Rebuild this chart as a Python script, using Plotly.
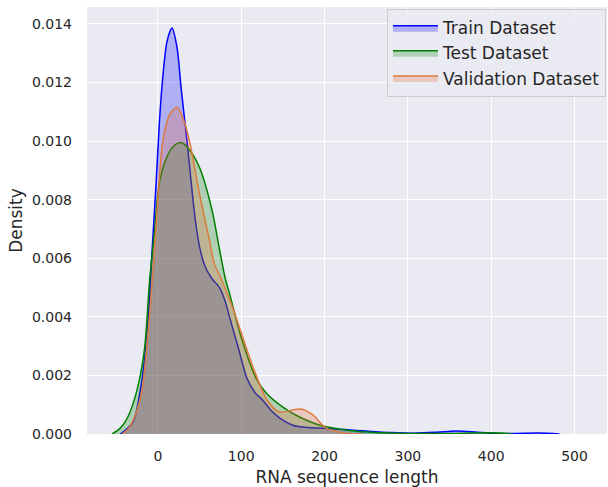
import plotly.graph_objects as go

# Train dataset KDE
train_x = [-45, -30, -21, -13, -7, -2, 2, 6, 11, 17, 23, 28, 35, 40, 45, 50, 57, 65, 74, 80, 86, 97, 107, 117, 126, 136, 146, 162, 180, 200, 225, 250, 280, 310, 335, 358, 380, 402, 430, 458, 482]
train_d = [0, 0.0004, 0.0015, 0.0034, 0.0062, 0.0086, 0.0107, 0.0122, 0.0134, 0.01386, 0.0132, 0.0118, 0.0100, 0.0086, 0.0073, 0.0064, 0.0057, 0.0053, 0.0050, 0.0046, 0.0040, 0.0029, 0.0019, 0.0014, 0.00115, 0.0008, 0.00055, 0.0003, 0.00022, 0.0002, 0.00015, 0.0001, 0.00005, 0.00003, 0.00006, 0.0001, 0.00007, 0.00002, 0.00002, 0.00003, 0]

# Test dataset KDE
test_x = [-55, -45, -36, -25, -16, -10, -4, 2, 10, 18, 28, 38, 50, 65, 74, 81, 86, 100, 118, 130, 150, 170, 198, 230, 260, 300, 350, 400, 426]
test_d = [0, 0.0002, 0.00058, 0.0015, 0.0029, 0.0052, 0.0069, 0.0086, 0.0094, 0.0098, 0.00995, 0.0097, 0.0091, 0.00765, 0.0063, 0.0053, 0.0048, 0.0033, 0.0019, 0.0014, 0.00092, 0.00058, 0.00027, 0.00012, 0.00005, 0.00002, 0.00002, 0.00004, 0]

# Validation dataset KDE
val_x = [-43, -35, -28, -19, -12, -4, 0, 6, 14, 23, 30, 38, 50, 62, 68, 76, 90, 114, 131, 146, 162, 172, 186, 202, 226, 246]
val_d = [0, 0.0002, 0.00058, 0.0015, 0.0034, 0.0063, 0.0080, 0.0100, 0.0109, 0.01116, 0.0108, 0.0100, 0.0082, 0.0066, 0.0058, 0.0053, 0.0043, 0.0023, 0.00116, 0.00075, 0.00082, 0.00085, 0.00065, 0.0002, 0.00003, 0]

x_ticks = [0, 100, 200, 300, 400, 500]
y_ticks = [0, 0.002, 0.004, 0.006, 0.008, 0.010, 0.012, 0.014]

series = [
    ("Train Dataset", train_x, train_d, "#0000ff", "rgba(0,0,255,0.25)"),
    ("Test Dataset", test_x, test_d, "#008000", "rgba(0,128,0,0.25)"),
    ("Validation Dataset", val_x, val_d, "#dd7a40", "rgba(230,100,40,0.25)"),
]

fig = go.Figure()
for name, xs, ds, lc, fc in series:
    fig.add_trace(go.Scatter(
        x=xs, y=ds, name=name, mode="lines",
        line=dict(color=lc, width=1.5, shape="spline", smoothing=0.8),
        fill="tozeroy", fillcolor=fc,
    ))

font_family = "DejaVu Sans"
fig.update_layout(
    width=608, height=487,
    margin=dict(l=87, r=1, t=7, b=53),
    paper_bgcolor="white",
    plot_bgcolor="#EAEAF2",
    font=dict(family=font_family, color="#262626", size=14),
    showlegend=True,
    legend=dict(
        x=0.998, y=0.995, xanchor="right", yanchor="top",
        bgcolor="rgba(234,234,242,0.8)", bordercolor="#cccccc", borderwidth=1,
        font=dict(size=17, color="#262626"),
        itemwidth=45,
    ),
    xaxis=dict(
        range=[-85, 539],
        tickvals=x_ticks,
        showgrid=True, gridcolor="white", gridwidth=1.2,
        zeroline=False, showline=False, ticks="",
        ticklabelstandoff=12, automargin=False,
        title=dict(text="RNA sequence length", font=dict(size=17), standoff=10),
    ),
    yaxis=dict(
        range=[0, 0.01458],
        tickvals=y_ticks,
        tickformat=".3f",
        showgrid=True, gridcolor="white", gridwidth=1.2,
        zeroline=False, showline=False, ticks="",
        ticklabelstandoff=14, automargin=False,
        title=dict(text="Density", font=dict(size=17), standoff=4),
    ),
)

fig.write_html("out.html", config={"displayModeBar": False},
               post_script="document.body.style.margin='0';")
